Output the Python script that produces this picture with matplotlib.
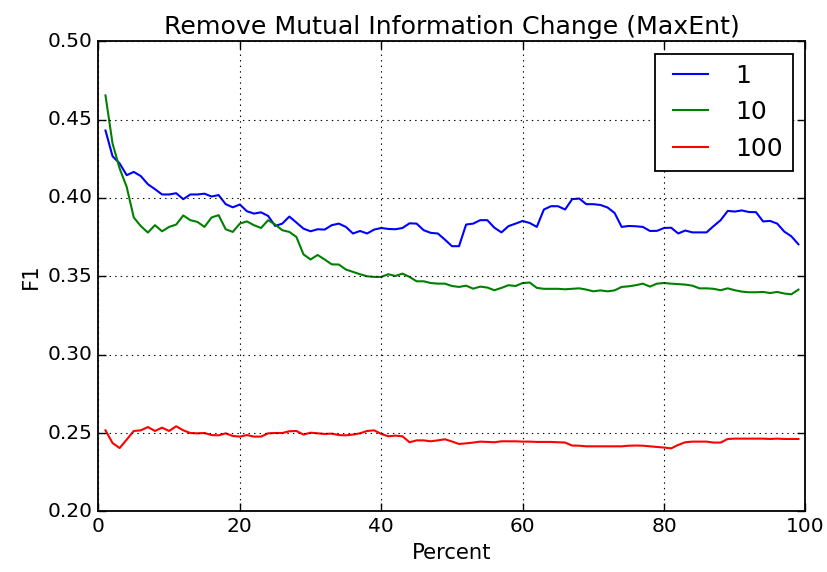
import matplotlib
matplotlib.use('Agg')
from matplotlib import pyplot as plt
import numpy as np

plt.style.use('classic')

percent = np.arange(1, 100)

# F1 scores, one series per setting
f1_1 = [0.443, 0.4266, 0.422, 0.4145, 0.4166, 0.4139, 0.4087, 0.4056, 0.4022, 0.4022,
        0.403, 0.3992, 0.4022, 0.4022, 0.4027, 0.4009, 0.4018, 0.396, 0.394, 0.3958,
        0.3915, 0.390, 0.3908, 0.3885, 0.3821, 0.3836, 0.3881, 0.3843, 0.3804, 0.3787,
        0.380, 0.3798, 0.3826, 0.3836, 0.3815, 0.3773, 0.3789, 0.3773, 0.3798, 0.3808,
        0.3802, 0.380, 0.3808, 0.3838, 0.3836, 0.3794, 0.3777, 0.3773, 0.3734, 0.3692,
        0.3692, 0.383, 0.3836, 0.3858, 0.3858, 0.381, 0.378, 0.382, 0.3836, 0.3853,
        0.384, 0.3815, 0.3926, 0.3947, 0.3947, 0.3926, 0.3992, 0.3996, 0.396, 0.396,
        0.3955, 0.3939, 0.3904, 0.3815, 0.3821, 0.3819, 0.3815, 0.3789, 0.379, 0.3808,
        0.381, 0.3773, 0.3792, 0.378, 0.378, 0.378, 0.382, 0.3858, 0.3917, 0.3913,
        0.392, 0.391, 0.3909, 0.385, 0.3853, 0.3836, 0.3785, 0.3755, 0.3704]

f1_10 = [0.4654, 0.4347, 0.4188, 0.407, 0.3875, 0.382, 0.3779, 0.3826, 0.3787, 0.3815,
         0.383, 0.3888, 0.3858, 0.3847, 0.3815, 0.3875, 0.389, 0.380, 0.3783, 0.3836,
         0.385, 0.3826, 0.3808, 0.3858, 0.383, 0.3794, 0.3783, 0.3751, 0.364, 0.3607,
         0.3636, 0.3607, 0.3576, 0.3575, 0.3543, 0.3528, 0.3513, 0.350, 0.3496, 0.3496,
         0.3513, 0.3502, 0.3517, 0.3496, 0.3468, 0.3468, 0.3457, 0.3453, 0.3453, 0.3438,
         0.3432, 0.344, 0.3421, 0.3434, 0.3428, 0.3411, 0.3426, 0.3443, 0.3438, 0.3457,
         0.346, 0.3426, 0.342, 0.342, 0.342, 0.3417, 0.342, 0.3423, 0.3415, 0.3404,
         0.341, 0.3404, 0.341, 0.3432, 0.3436, 0.3443, 0.3453, 0.3434, 0.3453, 0.3457,
         0.3453, 0.345, 0.3447, 0.344, 0.3423, 0.3423, 0.342, 0.3411, 0.3423, 0.3411,
         0.3402, 0.3398, 0.3398, 0.340, 0.3393, 0.340, 0.339, 0.3385, 0.3415]

f1_100 = [0.2517, 0.2436, 0.2404, 0.2458, 0.2513, 0.2517, 0.2538, 0.2513, 0.2534, 0.2513,
          0.2543, 0.2517, 0.250, 0.2498, 0.250, 0.2487, 0.2485, 0.2498, 0.2481, 0.2477,
          0.2487, 0.2477, 0.2477, 0.2498, 0.250, 0.250, 0.2511, 0.2513, 0.249, 0.2502,
          0.2498, 0.2494, 0.2496, 0.2487, 0.2485, 0.249, 0.2498, 0.2513, 0.2517, 0.2494,
          0.2479, 0.2483, 0.2479, 0.2441, 0.2453, 0.2453, 0.2447, 0.2453, 0.246, 0.2446,
          0.243, 0.2434, 0.2439, 0.2445, 0.2443, 0.2441, 0.2447, 0.2447, 0.2447, 0.2445,
          0.2445, 0.2443, 0.2443, 0.2443, 0.2441, 0.2439, 0.242, 0.2419, 0.2415, 0.2415,
          0.2415, 0.2415, 0.2415, 0.2415, 0.2419, 0.242, 0.2419, 0.2415, 0.2411, 0.2407,
          0.2402, 0.2424, 0.2441, 0.2445, 0.2445, 0.2445, 0.2439, 0.2439, 0.2462, 0.2464,
          0.2464, 0.2464, 0.2464, 0.2464, 0.2462, 0.2464, 0.2462, 0.2462, 0.2462]

labels = ['1', '10', '100']

fig = plt.figure(figsize=(8.27, 5.72), dpi=100, facecolor='white')
fig.subplots_adjust(left=0.119, right=0.974, top=0.928, bottom=0.106)
ax = fig.add_subplot(111)

ax.plot(percent, f1_1, color='b', lw=1.5, label=labels[0])
ax.plot(percent, f1_10, color='g', lw=1.5, label=labels[1])
ax.plot(percent, f1_100, color='r', lw=1.5, label=labels[2])

ax.set_xlim(0, 100)
ax.set_ylim(0.20, 0.50)
ax.set_xticks(np.arange(0, 101, 20))
ax.set_yticks(np.arange(0.20, 0.501, 0.05))
ax.yaxis.set_major_formatter(matplotlib.ticker.FormatStrFormatter('%.2f'))
ax.tick_params(labelsize=14.5, length=6, width=1)
ax.grid(True, linestyle=':', color='black', linewidth=0.8)
for sp in ax.spines.values():
    sp.set_linewidth(1.3)

ax.set_xlabel('Percent', fontsize=15.2)
ax.set_ylabel('F1', fontsize=15.2)
ax.set_title('Remove Mutual Information Change (MaxEnt)', fontsize=18.2)

leg = ax.legend(loc='upper right', fontsize=18, handlelength=2.0, borderaxespad=0.5)
leg.get_frame().set_linewidth(1.3)

fig.savefig('out.png', dpi=100, facecolor='white')
